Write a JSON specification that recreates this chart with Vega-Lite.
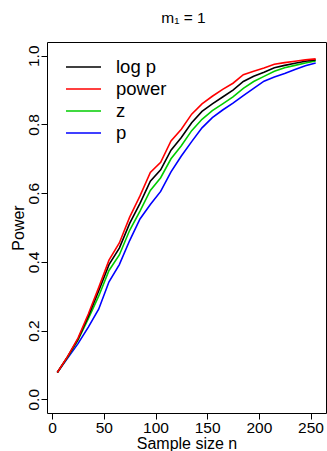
{
  "$schema": "https://vega.github.io/schema/vega-lite/v6.json",
  "width": 279,
  "height": 371,
  "autosize": {"type": "none"},
  "padding": {"left": 47, "top": 42, "right": 1, "bottom": 38},
  "title": {"text": "m₁ = 1", "fontSize": 15.5, "font": "Liberation Sans", "fontWeight": "normal", "anchor": "middle", "frame": "group", "baseline": "alphabetic", "offset": 4, "dx": -3, "color": "black"},
  "datasets": {
    "curves": [
      {"n": 5, "method": "p", "power": 0.078}, {"n": 15, "method": "p", "power": 0.120}, {"n": 25, "method": "p", "power": 0.162}, {"n": 35, "method": "p", "power": 0.210}, {"n": 45, "method": "p", "power": 0.262}, {"n": 55, "method": "p", "power": 0.342}, {"n": 65, "method": "p", "power": 0.392}, {"n": 75, "method": "p", "power": 0.462}, {"n": 85, "method": "p", "power": 0.525}, {"n": 95, "method": "p", "power": 0.567}, {"n": 105, "method": "p", "power": 0.605}, {"n": 115, "method": "p", "power": 0.662}, {"n": 125, "method": "p", "power": 0.708}, {"n": 135, "method": "p", "power": 0.750}, {"n": 145, "method": "p", "power": 0.790}, {"n": 155, "method": "p", "power": 0.820}, {"n": 165, "method": "p", "power": 0.842}, {"n": 175, "method": "p", "power": 0.862}, {"n": 185, "method": "p", "power": 0.884}, {"n": 195, "method": "p", "power": 0.905}, {"n": 205, "method": "p", "power": 0.926}, {"n": 215, "method": "p", "power": 0.938}, {"n": 225, "method": "p", "power": 0.948}, {"n": 235, "method": "p", "power": 0.960}, {"n": 245, "method": "p", "power": 0.971}, {"n": 255, "method": "p", "power": 0.979},
      {"n": 5, "method": "z", "power": 0.078}, {"n": 15, "method": "z", "power": 0.123}, {"n": 25, "method": "z", "power": 0.172}, {"n": 35, "method": "z", "power": 0.235}, {"n": 45, "method": "z", "power": 0.300}, {"n": 55, "method": "z", "power": 0.375}, {"n": 65, "method": "z", "power": 0.420}, {"n": 75, "method": "z", "power": 0.492}, {"n": 85, "method": "z", "power": 0.548}, {"n": 95, "method": "z", "power": 0.608}, {"n": 105, "method": "z", "power": 0.645}, {"n": 115, "method": "z", "power": 0.700}, {"n": 125, "method": "z", "power": 0.738}, {"n": 135, "method": "z", "power": 0.782}, {"n": 145, "method": "z", "power": 0.815}, {"n": 155, "method": "z", "power": 0.840}, {"n": 165, "method": "z", "power": 0.860}, {"n": 175, "method": "z", "power": 0.880}, {"n": 185, "method": "z", "power": 0.905}, {"n": 195, "method": "z", "power": 0.925}, {"n": 205, "method": "z", "power": 0.940}, {"n": 215, "method": "z", "power": 0.955}, {"n": 225, "method": "z", "power": 0.965}, {"n": 235, "method": "z", "power": 0.972}, {"n": 245, "method": "z", "power": 0.979}, {"n": 255, "method": "z", "power": 0.985},
      {"n": 5, "method": "log p", "power": 0.078}, {"n": 15, "method": "log p", "power": 0.124}, {"n": 25, "method": "log p", "power": 0.175}, {"n": 35, "method": "log p", "power": 0.242}, {"n": 45, "method": "log p", "power": 0.315}, {"n": 55, "method": "log p", "power": 0.392}, {"n": 65, "method": "log p", "power": 0.440}, {"n": 75, "method": "log p", "power": 0.512}, {"n": 85, "method": "log p", "power": 0.570}, {"n": 95, "method": "log p", "power": 0.635}, {"n": 105, "method": "log p", "power": 0.668}, {"n": 115, "method": "log p", "power": 0.725}, {"n": 125, "method": "log p", "power": 0.762}, {"n": 135, "method": "log p", "power": 0.805}, {"n": 145, "method": "log p", "power": 0.838}, {"n": 155, "method": "log p", "power": 0.860}, {"n": 165, "method": "log p", "power": 0.880}, {"n": 175, "method": "log p", "power": 0.900}, {"n": 185, "method": "log p", "power": 0.925}, {"n": 195, "method": "log p", "power": 0.940}, {"n": 205, "method": "log p", "power": 0.952}, {"n": 215, "method": "log p", "power": 0.965}, {"n": 225, "method": "log p", "power": 0.972}, {"n": 235, "method": "log p", "power": 0.978}, {"n": 245, "method": "log p", "power": 0.984}, {"n": 255, "method": "log p", "power": 0.988},
      {"n": 5, "method": "power", "power": 0.078}, {"n": 15, "method": "power", "power": 0.125}, {"n": 25, "method": "power", "power": 0.178}, {"n": 35, "method": "power", "power": 0.248}, {"n": 45, "method": "power", "power": 0.325}, {"n": 55, "method": "power", "power": 0.405}, {"n": 65, "method": "power", "power": 0.455}, {"n": 75, "method": "power", "power": 0.530}, {"n": 85, "method": "power", "power": 0.592}, {"n": 95, "method": "power", "power": 0.660}, {"n": 105, "method": "power", "power": 0.690}, {"n": 115, "method": "power", "power": 0.752}, {"n": 125, "method": "power", "power": 0.786}, {"n": 135, "method": "power", "power": 0.830}, {"n": 145, "method": "power", "power": 0.860}, {"n": 155, "method": "power", "power": 0.882}, {"n": 165, "method": "power", "power": 0.902}, {"n": 175, "method": "power", "power": 0.920}, {"n": 185, "method": "power", "power": 0.945}, {"n": 195, "method": "power", "power": 0.955}, {"n": 205, "method": "power", "power": 0.964}, {"n": 215, "method": "power", "power": 0.975}, {"n": 225, "method": "power", "power": 0.980}, {"n": 235, "method": "power", "power": 0.984}, {"n": 245, "method": "power", "power": 0.988}, {"n": 255, "method": "power", "power": 0.991}
    ]
  },
  "data": {"name": "curves"},
  "mark": {"type": "line", "strokeWidth": 1.6},
  "encoding": {
    "x": {
      "field": "n", "type": "quantitative",
      "scale": {"domain": [-5, 265], "nice": false, "zero": false},
      "axis": {"values": [0, 50, 100, 150, 200, 250], "format": "d", "title": "Sample size n", "grid": false, "domain": false, "tickSize": 6, "tickColor": "black", "labelPadding": 1, "labelFontSize": 15.5, "labelFont": "Liberation Sans", "labelColor": "black", "labelFlush": false, "labelOverlap": false, "titleFontSize": 16, "titleFont": "Liberation Sans", "titleFontWeight": "normal", "titleColor": "black", "titlePadding": 0}
    },
    "y": {
      "field": "power", "type": "quantitative",
      "scale": {"domain": [-0.04, 1.04], "nice": false, "zero": false},
      "axis": {"values": [0, 0.2, 0.4, 0.6, 0.8, 1.0], "format": ".1f", "title": "Power", "grid": false, "domain": false, "tickSize": 6, "tickColor": "black", "labelAngle": -90, "labelAlign": "center", "labelBaseline": "alphabetic", "labelPadding": 3, "labelFontSize": 15.5, "labelFont": "Liberation Sans", "labelColor": "black", "labelFlush": false, "labelOverlap": false, "titleFontSize": 16, "titleFont": "Liberation Sans", "titleFontWeight": "normal", "titleColor": "black", "titlePadding": 0}
    },
    "color": {
      "field": "method", "type": "nominal",
      "scale": {"domain": ["log p", "power", "z", "p"], "range": ["#000000", "#FF0000", "#00CD00", "#0000FF"]},
      "legend": {"orient": "none", "legendX": 18, "legendY": 14, "title": null, "symbolType": "stroke", "symbolSize": 1225, "symbolStrokeWidth": 1.6, "labelFontSize": 18.5, "labelFont": "Liberation Sans", "labelColor": "black", "labelOffset": 14, "clipHeight": 22, "rowPadding": 0, "padding": 0}
    }
  },
  "config": {"view": {"stroke": "black", "strokeWidth": 1}, "background": "white"}
}
